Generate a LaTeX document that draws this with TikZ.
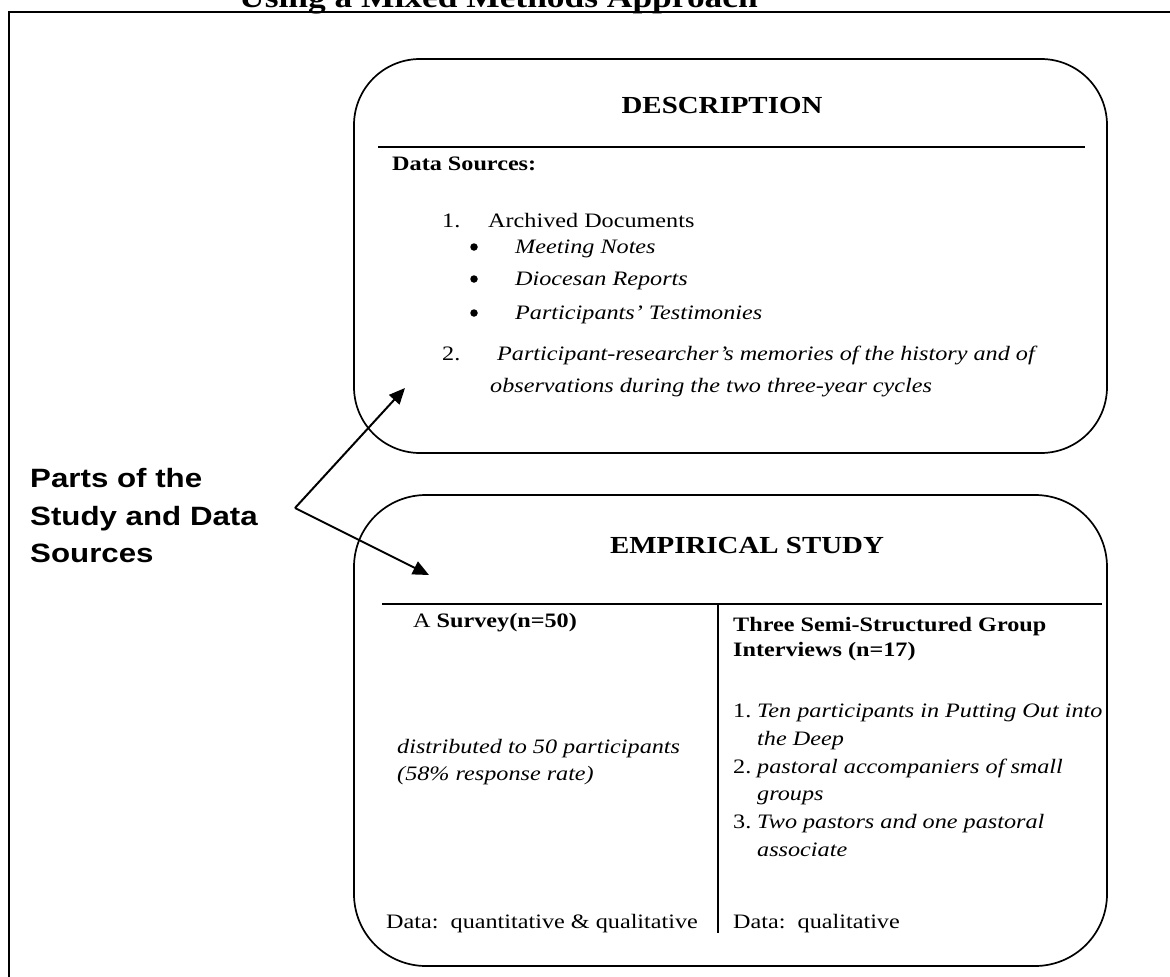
\documentclass[tikz,border=0pt]{standalone}
\usepackage{fontspec}
\setmainfont{Liberation Serif}[FakeStretch=1.18]
\newfontfamily\partsfont{Liberation Sans}[FakeStretch=1.18]
\usetikzlibrary{arrows.meta}

\tikzset{
    caja/.style={draw, line width=1.7pt},
    regla/.style={line width=2.3pt},
    texto/.style={inner sep=0pt, anchor=base west,
        font=\fontsize{20.5}{27}\selectfont},
    titulo/.style={inner sep=0pt, anchor=base,
        font=\bfseries\fontsize{24.5}{30}\selectfont},
    punto/.style={circle, fill, inner sep=0pt, minimum size=7.5pt},
    flecha/.style={line width=2pt, -{Triangle[length=16pt,width=14pt]}},
}

\begin{document}
\begin{tikzpicture}[x=1pt, y=-1pt]
    \useasboundingbox (0,0) rectangle (1170,977);
    \clip (0,0) rectangle (1170,977);

    % Marco exterior y título (cortado arriba)
    \draw[line width=2.5pt] (9,995) -- (9,12) -- (1190,12);
    \node[texto, font=\bfseries\fontsize{30}{34}\selectfont] (encabezado)
        at (239,7) {Using a Mixed Methods Approach};

    % Texto de la izquierda
    \node[texto, font=\partsfont\bfseries\fontsize{26.5}{37}\selectfont] (partesA)
        at (30,487) {Parts of the};
    \node[texto, font=\partsfont\bfseries\fontsize{26.5}{37}\selectfont] (partesB)
        at (30,525) {Study and Data};
    \node[texto, font=\partsfont\bfseries\fontsize{26.5}{37}\selectfont] (partesC)
        at (30,562) {Sources};

    % Caja superior: descripción
    \draw[caja, rounded corners=66pt] (354,59) rectangle (1107,453);
    \node[titulo] (desc) at (722,113) {DESCRIPTION};
    \draw[regla] (378,147) -- (1085,147);
    \node[texto, font=\bfseries\fontsize{20.5}{27}\selectfont] (fuentes)
        at (392,170) {Data Sources:};
    \node[texto] (num1) at (442,227) {1.};
    \node[texto] (archivo) at (488,227) {Archived Documents};
    \foreach \yy/\lbl/\nm in {253/Meeting Notes/a, 285/Diocesan Reports/b,
                              319/Participants’ Testimonies/c}
    {
        \node[punto] (bul\nm) at (474,\yy-6) {};
        \node[texto] (doc\nm) at (515,\yy) {\itshape \lbl};
    }
    \node[texto] (num2) at (442,360) {2.};
    \node[texto] (memA) at (497,360)
        {\itshape Participant-researcher’s memories of the history and of};
    \node[texto] (memB) at (490,392)
        {\itshape observations during the two three-year cycles};

    % Caja inferior: estudio empírico
    \draw[caja, rounded corners=72pt] (354,495) rectangle (1107,966);
    \node[titulo] (emp) at (747,553) {EMPIRICAL STUDY};
    \draw[regla] (382,604) -- (1102,604);
    \draw[regla] (718,604) -- (718,933);

    % Columna izquierda: encuesta
    \node[texto] (encuesta) at (413,627) {A \textbf{Survey(n=50)}};
    \node[texto] (distA) at (397,753) {\itshape distributed to 50 participants};
    \node[texto] (distB) at (397,780) {\itshape (58\% response rate)};
    \node[texto] (datosIzq) at (386,928) {Data:\ \ quantitative \& qualitative};

    % Columna derecha: entrevistas
    \node[texto, font=\bfseries\fontsize{20.5}{27}\selectfont] (entA)
        at (733,631) {Three Semi-Structured Group};
    \node[texto, font=\bfseries\fontsize{20.5}{27}\selectfont] (entB)
        at (733,656) {Interviews (n=17)};
    \foreach \yy/\lbl/\nm in {717/1./u, 773/2./d, 828/3./t}
        \node[texto] (n\nm) at (733,\yy) {\lbl};
    \node[texto] (gA) at (757,717) {\itshape Ten participants in Putting Out into};
    \node[texto] (gB) at (757,745) {\itshape the Deep};
    \node[texto] (gC) at (757,773) {\itshape pastoral accompaniers of small};
    \node[texto] (gD) at (757,800) {\itshape groups};
    \node[texto] (gE) at (757,828) {\itshape Two pastors and one pastoral};
    \node[texto] (gF) at (757,856) {\itshape associate};
    \node[texto] (datosDer) at (733,928) {Data:\ \ qualitative};

    % Flechas desde el texto de la izquierda
    \coordinate (vertice) at (295,508);
    \coordinate (puntaDesc) at (405,388);
    \coordinate (puntaEmp) at (429,575);
    \draw[flecha] (vertice) -- (puntaDesc);
    \draw[flecha] (vertice) -- (puntaEmp);
\end{tikzpicture}
\end{document}
